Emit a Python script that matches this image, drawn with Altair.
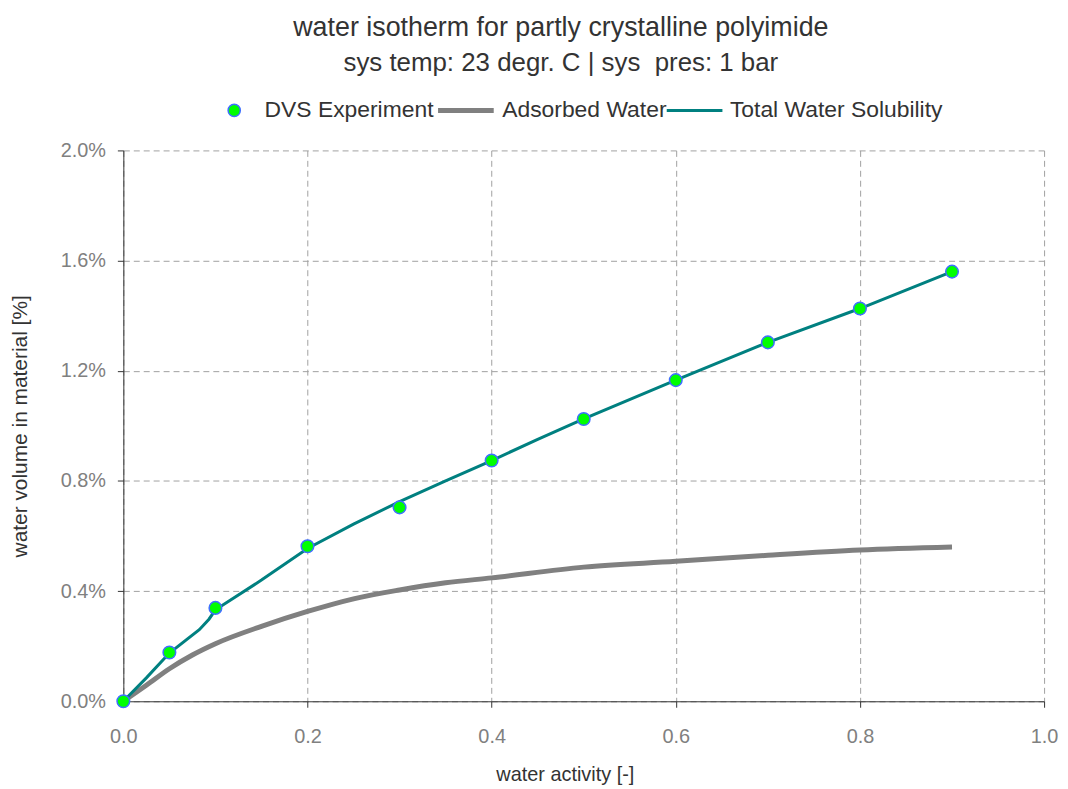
import altair as alt
import pandas as pd

# DVS experiment points (water activity, water volume %)
dvs_x = [0.0, 0.05, 0.1, 0.2, 0.3, 0.4, 0.5, 0.6, 0.7, 0.8, 0.9]
dvs_y = [0.0, 0.177, 0.339, 0.563, 0.704, 0.874, 1.025, 1.166, 1.303, 1.426, 1.560]

# Total water solubility line
tot_x = [0.0, 0.025, 0.05, 0.0825, 0.093, 0.1, 0.15, 0.2, 0.25, 0.3, 0.35, 0.4, 0.45, 0.5, 0.6, 0.7, 0.8, 0.9]
tot_y = [0.0, 0.085, 0.175, 0.26, 0.298, 0.332, 0.44, 0.555, 0.643, 0.725, 0.80, 0.874, 0.951, 1.025, 1.166, 1.303, 1.426, 1.560]

# Adsorbed water line
ads_x = [0.0, 0.025, 0.05, 0.075, 0.1, 0.15, 0.2, 0.25, 0.3, 0.35, 0.4, 0.5, 0.6, 0.7, 0.8, 0.9]
ads_y = [0.0, 0.058, 0.118, 0.168, 0.209, 0.272, 0.326, 0.372, 0.404, 0.43, 0.448, 0.487, 0.508, 0.53, 0.549, 0.56]

series = ["DVS Experiment", "Adsorbed Water", "Total Water Solubility"]
stroke_colors = ["#3f6fff", "#808080", "#008080"]

df_dvs = pd.DataFrame({"a": dvs_x, "v": [v / 100 for v in dvs_y], "s": series[0]})
df_tot = pd.DataFrame({"a": tot_x, "v": [v / 100 for v in tot_y], "s": series[2]})
df_ads = pd.DataFrame({"a": ads_x, "v": [v / 100 for v in ads_y], "s": series[1]})

FONT = "Liberation Sans"

xenc = alt.X("a:Q", scale=alt.Scale(domain=[0, 1], nice=False),
             axis=alt.Axis(title="water activity [-]", values=[0, 0.2, 0.4, 0.6, 0.8, 1.0], format=".1f",
                           labelFontSize=20, titleFontSize=20, labelPadding=19, titlePadding=19,
                           labelFlush=False, titleX=444))
yenc = alt.Y("v:Q", scale=alt.Scale(domain=[0, 0.02], nice=False),
             axis=alt.Axis(title="water volume in material [%]",
                           values=[0, 0.004, 0.008, 0.012, 0.016, 0.02], format=".1%",
                           labelFontSize=20, titleFontSize=21, labelPadding=12, titlePadding=30))

legend = alt.Legend(
    title=None, orient="none", direction="horizontal", legendX=100, legendY=-52,
    labelFont=FONT, labelFontSize=23, labelColor="#333333", labelLimit=400,
    labelOffset={"expr": "datum.value == 'DVS Experiment' ? 19 : (datum.value == 'Adsorbed Water' ? 25 : 24)"},
    columnPadding=-7,
    symbolStrokeWidth={"expr": "datum.value == 'Adsorbed Water' ? 5 : (datum.value == 'DVS Experiment' ? 1.5 : 3)"},
    symbolFillColor={"expr": "datum.value == 'DVS Experiment' ? '#00ff00' : 'transparent'"},
    symbolSize={"expr": "datum.value == 'DVS Experiment' ? 150 : 3136"},
)

strk = alt.Stroke("s:N", scale=alt.Scale(domain=series, range=stroke_colors), legend=legend)
shape = alt.Shape("s:N", scale=alt.Scale(domain=series, range=["circle", "stroke", "stroke"]), legend=legend)

ads_line = alt.Chart(df_ads).mark_line(strokeWidth=5, interpolate="monotone").encode(
    x=xenc, y=yenc, stroke=strk)
tot_line = alt.Chart(df_tot).mark_line(strokeWidth=3).encode(
    x=xenc, y=yenc, stroke=strk)
pts = alt.Chart(df_dvs).mark_point(filled=True, size=160, strokeWidth=1.5,
                                   fill="#00ff00", opacity=1).encode(
    x=xenc, y=yenc, stroke=strk, shape=shape)

chart = alt.layer(ads_line, tot_line, pts).properties(
    width=926, height=554,
    autosize=alt.AutoSizeParams(type="none"),
    padding={"left": 116, "top": 141, "right": 16, "bottom": 86},
    title=alt.Title("water isotherm for partly crystalline polyimide",
                    subtitle="sys temp: 23 degr. C | sys\u00a0 pres: 1 bar",
                    font=FONT, fontSize=27, fontWeight="normal", color="#333333",
                    subtitleFont=FONT, subtitleFontSize=26, subtitleColor="#333333",
                    subtitlePadding=8, anchor="middle", dx=-23, offset=22),
).configure_view(stroke=None).configure_axis(
    labelFont=FONT, labelColor="#808080",
    titleFont=FONT, titleFontWeight="normal", titleColor="#333333",
    domainColor="#333333", tickColor="#333333", tickSize=6,
    gridColor="#a0a0a0", gridDash=[6, 4], gridWidth=1,
)

chart.save("out.html", embed_options={"renderer": "svg", "actions": False})
